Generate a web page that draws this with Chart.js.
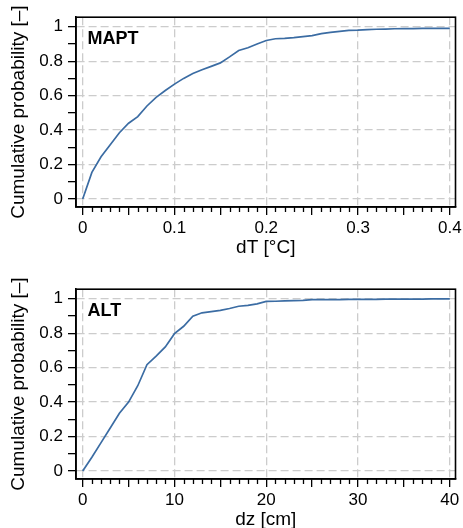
<!DOCTYPE html>
<html>
<head>
<meta charset="utf-8">
<script src="https://cdn.jsdelivr.net/npm/chart.js@4/dist/chart.umd.min.js"></script>
<style>
  html, body { margin: 0; padding: 0; background: #fff; overflow: hidden; width: 463px; height: 528px; }
  canvas { position: absolute; left: 0; }
  #c1 { top: 0; }
  #c2 { top: 272px; }
</style>
</head>
<body>
<canvas id="c1" width="463" height="272"></canvas>
<canvas id="c2" width="463" height="272"></canvas>
<script>
// ---------- DATA ----------
const maptDT = [0,0.01,0.02,0.03,0.04,0.05,0.06,0.07,0.08,0.09,0.10,0.11,0.12,0.13,0.14,0.15,0.16,0.17,0.18,0.19,0.20,
                0.21,0.22,0.23,0.24,0.25,0.26,0.27,0.28,0.29,0.30,0.31,0.32,0.33,0.34,0.35,0.36,0.37,0.38,0.39,0.40];
const maptProb = [0,0.155,0.245,0.315,0.385,0.44,0.478,0.54,0.59,0.63,0.667,0.70,0.728,0.75,0.77,0.79,0.825,0.862,0.878,0.90,0.92,
                  0.93,0.932,0.936,0.942,0.948,0.96,0.967,0.973,0.979,0.98,0.983,0.985,0.986,0.988,0.989,0.989,0.99,0.99,0.99,0.99];

const altDz = [0,1,2,3,4,5,6,7,8,9,10,11,12,13,14,15,16,17,18,19,20,
               21,22,23,24,25,26,27,28,29,30,31,32,33,34,35,36,37,38,39,40];
const altProb = [0,0.08,0.165,0.25,0.335,0.40,0.495,0.617,0.667,0.72,0.797,0.84,0.898,0.918,0.925,0.932,0.943,0.956,0.961,0.97,0.984,
                 0.985,0.987,0.989,0.99,0.994,0.995,0.995,0.995,0.996,0.996,0.996,0.996,0.997,0.997,0.997,0.997,0.998,0.999,0.999,0.999];

const maptXTicks = [0, 0.1, 0.2, 0.3, 0.4];
const maptXLabels = ['0', '0.1', '0.2', '0.3', '0.4'];
const altXTicks = [0, 10, 20, 30, 40];
const altXLabels = ['0', '10', '20', '30', '40'];
const yTicks = [0, 0.2, 0.4, 0.6, 0.8, 1];
const yLabels = ['0', '0.2', '0.4', '0.6', '0.8', '1'];
const yTitle = 'Cumulative probability [–]';

// ---------- HELPERS ----------
const near = (a, b) => Math.abs(a - b) < 1e-9;
const inList = (v, list) => list.some(m => near(v, m));
function steps(from, to, step) {
  const out = []; const n = Math.round((to - from) / step);
  for (let i = 0; i <= n; i++) out.push(+(from + i * step).toFixed(6));
  return out;
}

const FONT = "'Liberation Sans', Arial, Helvetica, sans-serif";
const GRID = '#cccccc';
const LINE = '#3b6ca3';

function makeChart(id, xs, ys, opt) {
  const longTicks = steps(opt.xTicks[0], opt.xTicks[opt.xTicks.length - 1], opt.longStep);
  const allXTicks = steps(opt.xTicks[0], opt.xTicks[opt.xTicks.length - 1], opt.minorStep);
  const shortTicks = allXTicks.filter(v => !inList(v, longTicks));
  const allYTicks = steps(0, 1, 0.1);

  const framePlugin = {
    id: 'frame' + id,
    afterDraw(chart) {
      const { ctx, chartArea: a, scales } = chart;
      ctx.save();
      ctx.strokeStyle = '#000';
      ctx.lineWidth = 1.3;
      ctx.beginPath();
      shortTicks.forEach(v => {
        const px = Math.round(scales.x.getPixelForValue(v)) + 0.5;
        ctx.moveTo(px, a.bottom);
        ctx.lineTo(px, a.bottom + 5);
      });
      ctx.stroke();
      ctx.lineWidth = 1.6;
      ctx.strokeRect(a.left, a.top, a.right - a.left, a.bottom - a.top);
      ctx.fillStyle = '#000';
      ctx.font = "bold 18px " + FONT;
      ctx.textBaseline = 'alphabetic';
      ctx.textAlign = 'left';
      ctx.fillText(opt.panel, a.left + 11.5, a.top + 26.8);
      ctx.restore();
    }
  };

  return new Chart(document.getElementById(id), {
    type: 'scatter',
    data: {
      datasets: [{
        data: xs.map((x, i) => ({ x, y: ys[i] })),
        showLine: true,
        borderColor: LINE,
        borderWidth: 1.7,
        pointRadius: 0,
        tension: 0,
        fill: false
      }]
    },
    options: {
      responsive: false,
      animation: false,
      devicePixelRatio: 1,
      layout: { padding: { top: 17.2, right: 7.5, left: 0, bottom: 0 } },
      plugins: { legend: { display: false }, tooltip: { enabled: false } },
      scales: {
        x: {
          type: 'linear',
          min: opt.xMin, max: opt.xMax,
          afterBuildTicks: s => { s.ticks = allXTicks.map(v => ({ value: v })); },
          afterFit: s => { s.height = 272 - 207; s.paddingLeft = 0; s.paddingRight = 0; },
          ticks: {
            autoSkip: false, maxRotation: 0, minRotation: 0, padding: 3,
            color: '#000',
            font: { family: FONT, size: 17 },
            callback: v => { const i = opt.xTicks.findIndex(m => near(m, v)); return i >= 0 ? opt.xLabels[i] : ''; }
          },
          grid: {
            color: c => (c.tick && inList(c.tick.value, opt.xTicks)) ? GRID : 'rgba(0,0,0,0)',
            lineWidth: 1.3,
            drawTicks: true,
            tickLength: 8,
            tickWidth: 1.3,
            tickColor: c => (c.tick && inList(c.tick.value, longTicks)) ? '#000' : 'rgba(0,0,0,0)'
          },
          border: { display: true, color: '#000', width: 1.6, dash: [8, 4] },
          title: {
            display: true, text: opt.xTitle, color: '#000',
            font: { family: FONT, size: 19 },
            padding: { top: 0, bottom: 13.3 }
          }
        },
        y: {
          type: 'linear',
          min: -0.046, max: 1.055,
          afterBuildTicks: s => { s.ticks = allYTicks.map(v => ({ value: v })); },
          afterFit: s => { s.width = 76; s.paddingTop = 0; s.paddingBottom = 0; },
          ticks: {
            autoSkip: false, padding: 5,
            color: '#000',
            font: { family: FONT, size: 17 },
            callback: v => { const i = yTicks.findIndex(m => near(m, v)); return i >= 0 ? yLabels[i] : ''; }
          },
          grid: {
            color: c => (c.tick && inList(c.tick.value, yTicks)) ? GRID : 'rgba(0,0,0,0)',
            lineWidth: 1.3,
            drawTicks: true,
            tickLength: 8,
            tickWidth: 1.3,
            tickColor: '#000'
          },
          border: { display: true, color: '#000', width: 1.6, dash: [8, 4] },
          title: {
            display: true, text: yTitle, color: '#000',
            font: { family: FONT, size: 19 },
            padding: { top: 7.4, bottom: 0 }
          }
        }
      }
    },
    plugins: [framePlugin]
  });
}

makeChart('c1', maptDT, maptProb, {
  xMin: -0.0073, xMax: 0.4062, xTicks: maptXTicks, xLabels: maptXLabels,
  longStep: 0.05, minorStep: 0.01, xTitle: 'dT [°C]', panel: 'MAPT'
});
makeChart('c2', altDz, altProb, {
  xMin: -0.73, xMax: 40.62, xTicks: altXTicks, xLabels: altXLabels,
  longStep: 5, minorStep: 1, xTitle: 'dz [cm]', panel: 'ALT'
});
</script>
</body>
</html>
